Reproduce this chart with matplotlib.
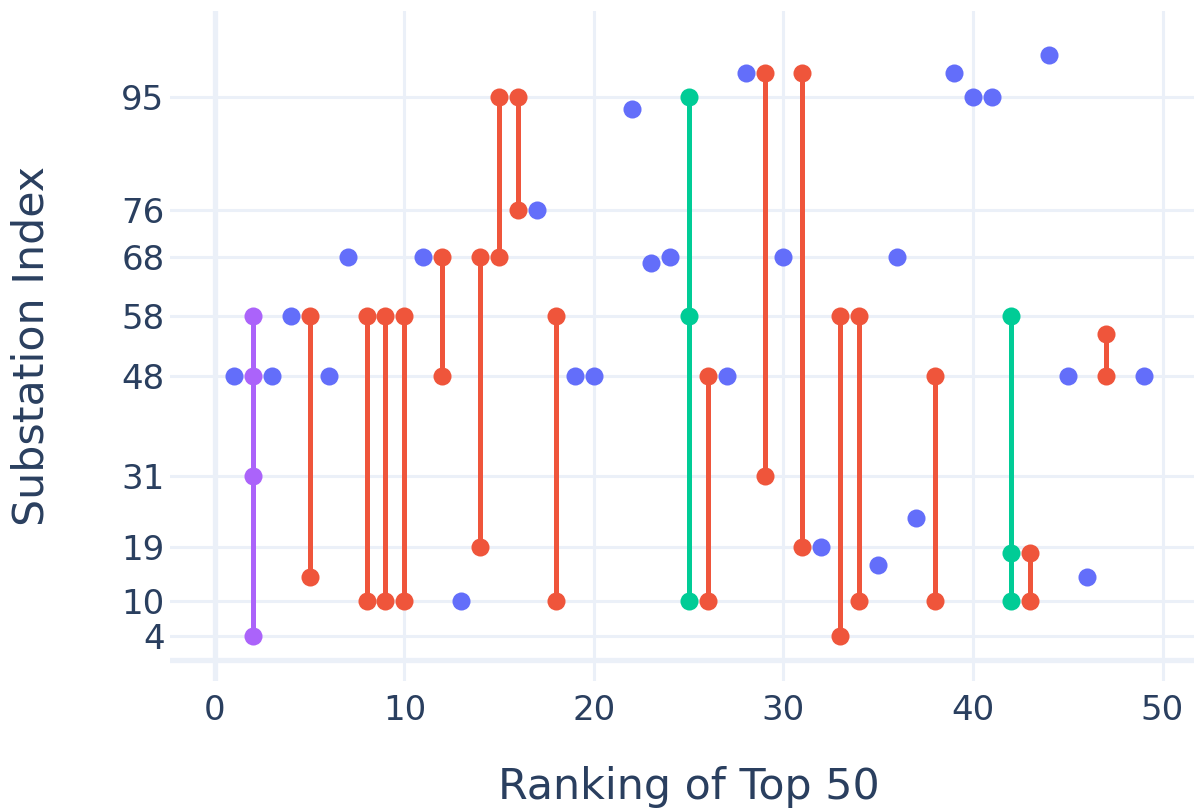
import matplotlib
matplotlib.use('Agg')
from matplotlib import pyplot as plt

# ranks with a single substation
single_ranks = [1, 3, 4, 6, 7, 11, 13, 17, 19, 20, 22, 23, 24, 27, 28, 30,
                32, 35, 36, 37, 39, 40, 41, 44, 45, 46, 49]
single_vals = [48, 48, 58, 48, 68, 68, 10, 76, 48, 48, 93, 67, 68, 48, 99, 68,
               19, 16, 68, 24, 99, 95, 95, 102, 48, 14, 48]

# ranks with two substations
pair_ranks = [5, 8, 9, 10, 12, 14, 15, 16, 18, 26, 29, 31, 33, 34, 38, 43, 47]
pair_low = [14, 10, 10, 10, 48, 19, 68, 76, 10, 10, 31, 19, 4, 10, 10, 10, 48]
pair_high = [58, 58, 58, 58, 68, 68, 95, 95, 58, 48, 99, 99, 58, 58, 48, 18, 55]

# ranks with three / four substations
triple_ranks = [25, 42]
triple_vals = [[10, 58, 95], [10, 18, 58]]
quad_ranks = [2]
quad_vals = [[4, 31, 48, 58]]

y_ticks = [4, 10, 19, 31, 48, 58, 68, 76, 95]
x_ticks = [0, 10, 20, 30, 40, 50]

colors = {1: '#636EFA', 2: '#EF553B', 3: '#00CC96', 4: '#AB63FA'}
grid_c = '#EBF0F8'
text_c = '#2A3F5F'

groups = []
for r, v in zip(single_ranks, single_vals):
    groups.append((r, [v]))
for r, lo, hi in zip(pair_ranks, pair_low, pair_high):
    groups.append((r, [lo, hi]))
for r, vs in zip(triple_ranks, triple_vals):
    groups.append((r, vs))
for r, vs in zip(quad_ranks, quad_vals):
    groups.append((r, vs))
groups.sort(key=lambda g: g[0])

fig = plt.figure(figsize=(11.94, 8.11), dpi=100)
ax = fig.add_axes([170 / 1194, 130 / 811, 1024 / 1194, 670 / 811])

for i, (r, vs) in enumerate(groups):
    c = colors[len(vs)]
    ax.plot([r] * len(vs), vs, '-o', color=c, linewidth=3.6, markersize=13,
            markeredgewidth=0, zorder=3 + i * 0.01, solid_capstyle='butt')

ax.set_xlim(-2.37, 51.66)
ax.set_ylim(-3.54, 109.5)

for t in x_ticks[1:]:
    ax.axvline(t, color=grid_c, linewidth=2.2, zorder=1)
for t in y_ticks:
    ax.axhline(t, color=grid_c, linewidth=2.2, zorder=1)
ax.axvline(0, color=grid_c, linewidth=3.8, zorder=1)
ax.axhline(0, color=grid_c, linewidth=3.8, zorder=1)

ax.set_xticks(x_ticks)
ax.set_yticks(y_ticks)
ax.tick_params(length=0, labelsize=24.5, labelcolor=text_c)
ax.tick_params(axis='x', pad=9)
ax.tick_params(axis='y', pad=4)
for s in ax.spines.values():
    s.set_visible(False)

fig.text(689 / 1194, 1 - 799 / 811, 'Ranking of Top 50', ha='center', va='baseline',
         fontsize=30.8, color=text_c)
fig.text(32 / 1194, 1 - 346 / 811, 'Substation Index', ha='center', va='center',
         rotation=90, fontsize=30.8, color=text_c)

plt.savefig('out.png', dpi=100)
plt.close()
